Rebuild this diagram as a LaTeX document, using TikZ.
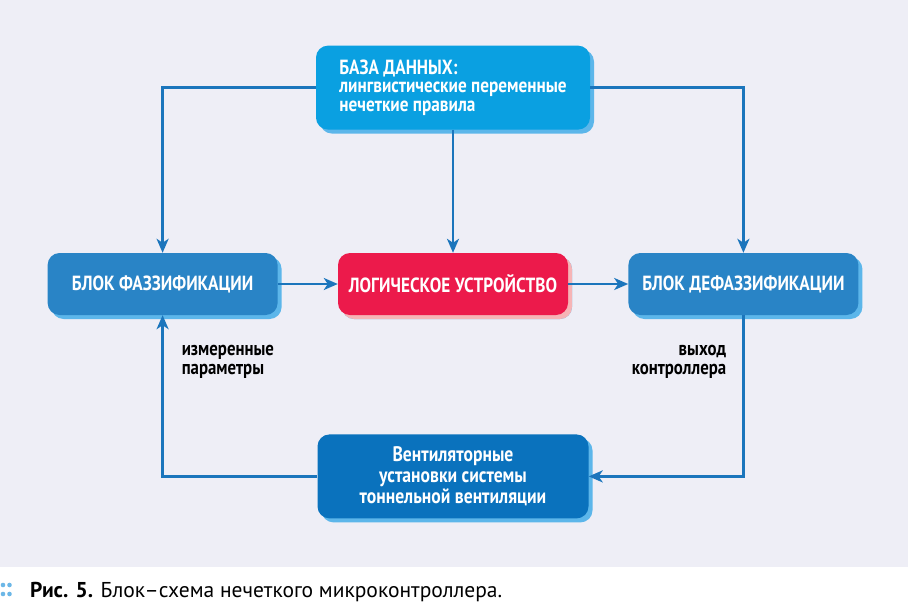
\documentclass[tikz,border=0pt]{standalone}
\usepackage{fontspec}
\setmainfont{PT Sans}[FakeStretch=0.84]
\newfontfamily\fcCapFont{PT Sans}
\usetikzlibrary{arrows.meta,positioning,shadows}
\definecolor{fcBack}{HTML}{EEEEF6}
\definecolor{fcLine}{HTML}{1B75BC}
\definecolor{fcBase}{HTML}{0AA0E1}
\definecolor{fcBlock}{HTML}{2984C6}
\definecolor{fcLogic}{HTML}{EC1A4B}
\definecolor{fcPlant}{HTML}{0A72BD}
\definecolor{fcShadeBlue}{HTML}{5CB6EA}
\definecolor{fcShadeRed}{HTML}{F6B4B6}
\definecolor{fcDots}{HTML}{6CB7E7}
\newcommand{\fcFigMain}{\fontsize{20.5}{22}\selectfont\bfseries}
\newcommand{\fcFigBase}{\fontsize{20.5}{18.5}\selectfont\bfseries}
\newcommand{\fcFigPlant}{\fontsize{21}{21}\selectfont\bfseries}
\newcommand{\fcFigSub}{\fontsize{20}{18.5}\selectfont\bfseries}
\newcommand{\fcFigCap}{\fcCapFont\fontsize{21.5}{23}\selectfont}
\tikzset{
  %% coloured block: fill as argument, lighter copy offset as the shadow
  fcbox/.style={
    rounded corners=12pt, fill=#1, text=white, inner sep=0pt,
    align=center, font=\fcFigMain, minimum width=230pt, minimum height=62pt,
    drop shadow={shadow xshift=4pt, shadow yshift=-4pt, opacity=1,
      fill=fcShadeBlue}},
  fcboxred/.style={fcbox=fcLogic,
    drop shadow={shadow xshift=4pt, shadow yshift=-4pt, opacity=1,
      fill=fcShadeRed}},
  fcflow/.style={-{Stealth[length=14pt,width=12pt,inset=4pt]},
    draw=fcLine, line width=2.6pt},
  fclbl/.style={font=\fcFigSub, text=black, inner sep=0pt},
}

\begin{document}
\begin{tikzpicture}[x=1pt,y=-1pt]
\useasboundingbox (0,0) rectangle (908,605);
\fill[white] (0,0) rectangle (908,605);
\fill[fcBack] (0,0) rectangle (908,567);

%% --- middle row ---------------------------------------------------
\node[fcboxred] (logic) at (453,284) {ЛОГИЧЕСКОЕ УСТРОЙСТВО};
\node[fcbox=fcBlock, left=60pt of logic]  (fuzz)   {БЛОК ФАЗЗИФИКАЦИИ};
\node[fcbox=fcBlock, right=60pt of logic] (defuzz) {БЛОК ДЕФАЗЗИФИКАЦИИ};

%% --- data base on top, plant at the bottom ------------------------
\node[fcbox=fcBase, above=123pt of logic, minimum width=274pt,
  minimum height=84pt, align=left, font=\fcFigBase] (base)
  {БАЗА ДАННЫХ:\\лингвистические переменные\\нечеткие правила};
\node[fcbox=fcPlant, below=119pt of logic, minimum width=271pt,
  minimum height=84pt, font=\fcFigPlant] (plant)
  {Вентиляторные\\установки системы\\тоннельной вентиляции};

\draw[fcflow] (base.west)  -| (fuzz.north);
\draw[fcflow] (base.east)  -| (defuzz.north);
\draw[fcflow] (base.south) -- (logic.north);
\draw[fcflow] (fuzz)   -- (logic);
\draw[fcflow] (logic)  -- (defuzz);
\draw[fcflow] (defuzz.south) |- (plant.east);
\draw[fcflow] (plant.west)   -| (fuzz.south);

\node[fclbl, below right=30pt and 19pt of fuzz.south, align=left] (meas)
  {измеренные\\параметры};
\node[fclbl, below left=30pt and 17pt of defuzz.south, align=right] (out)
  {выход\\контроллера};

%% --- caption ------------------------------------------------------
\foreach \dx in {3,9.5}
  \foreach \dy in {585,594}
    \fill[fcDots] (\dx,\dy) circle (2.3pt);
\node[anchor=base west, inner sep=0pt, font=\fcFigCap] (cap) at (30,597)
  {\textbf{Рис. 5.} Блок–схема нечеткого микроконтроллера.};

\end{tikzpicture}
\end{document}
